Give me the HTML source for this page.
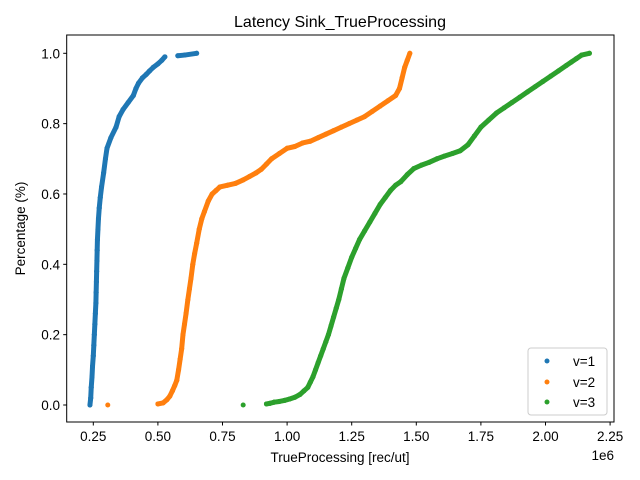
<!DOCTYPE html>
<html><head><meta charset="utf-8"><style>
body{margin:0;background:#fff}
svg{display:block;font-family:"Liberation Sans","DejaVu Sans",sans-serif}
</style></head><body>
<svg id="chart" width="640" height="480" viewBox="0 0 640 480">
<rect width="640" height="480" fill="#fff"/>
<text x="340" y="27" font-size="16" text-anchor="middle">Latency Sink_TrueProcessing</text>
<g id="plot"></g>
<rect x="66.7" y="35" width="547.3" height="387" fill="none" stroke="#000" stroke-width="1"/>
<g id="xt"></g>
<g id="yt"></g>
<text x="340" y="462" font-size="13.5" text-anchor="middle">TrueProcessing [rec/ut]</text>
<text x="614" y="460" font-size="13.5" text-anchor="end">1e6</text>
<text transform="translate(25,228.5) rotate(-90)" font-size="13.5" text-anchor="middle">Percentage (%)</text>
<g>
<rect x="528" y="348" width="79" height="67" rx="3" fill="#fff" stroke="#ccc"/>
<circle cx="547" cy="361" r="2.5" fill="#1f77b4"/>
<text x="573" y="366" font-size="13.5">v=1</text>
<circle cx="547" cy="382" r="2.5" fill="#ff7f0e"/>
<text x="573" y="387" font-size="13.5">v=2</text>
<circle cx="547" cy="402" r="2.5" fill="#2ca02c"/>
<text x="573" y="407" font-size="13.5">v=3</text>
</g>
</svg>
<script>
const xTicks=[0.25,0.5,0.75,1.0,1.25,1.5,1.75,2.0,2.25];
const xTickLabels=["0.25","0.50","0.75","1.00","1.25","1.50","1.75","2.00","2.25"];
const yTicks=[0,0.2,0.4,0.6,0.8,1.0];
const yTickLabels=["0.0","0.2","0.4","0.6","0.8","1.0"];
const v1X=[0.237,0.24,0.242,0.245,0.247,0.25,0.252,0.254,0.256,0.258,0.26,0.261,0.262,0.263,0.264,0.265,0.266,0.268,0.27,0.273,0.277,0.282,0.29,0.297,0.303,0.318,0.338,0.35,0.365,0.385,0.405,0.415,0.425,0.44,0.455,0.468,0.482,0.5,0.515,0.527,0.577,0.604,0.65];
const v1Y=[0,0.02,0.05,0.08,0.11,0.14,0.17,0.2,0.23,0.26,0.29,0.32,0.35,0.38,0.41,0.44,0.47,0.5,0.53,0.56,0.59,0.62,0.66,0.7,0.73,0.76,0.79,0.82,0.84,0.86,0.88,0.9,0.915,0.93,0.94,0.95,0.96,0.97,0.98,0.99,0.993,0.995,1.0];
const v2X=[0.306,0.5,0.52,0.535,0.546,0.556,0.565,0.573,0.58,0.586,0.592,0.597,0.603,0.609,0.616,0.622,0.628,0.635,0.642,0.65,0.66,0.67,0.68,0.695,0.71,0.725,0.74,0.77,0.8,0.83,0.855,0.88,0.9,0.92,0.94,0.97,1.0,1.03,1.06,1.09,1.12,1.15,1.18,1.21,1.24,1.27,1.3,1.33,1.36,1.39,1.42,1.435,1.445,1.455,1.465,1.475];
const v2Y=[0,0.003,0.006,0.015,0.025,0.04,0.055,0.07,0.1,0.13,0.16,0.2,0.23,0.26,0.3,0.33,0.36,0.4,0.43,0.46,0.5,0.53,0.55,0.58,0.6,0.61,0.62,0.625,0.63,0.64,0.65,0.66,0.67,0.685,0.7,0.715,0.73,0.735,0.745,0.75,0.76,0.77,0.78,0.79,0.8,0.81,0.82,0.835,0.85,0.865,0.88,0.9,0.93,0.96,0.98,1.0];
const v3X=[0.83,0.92,0.935,0.95,0.97,0.99,1.01,1.03,1.05,1.065,1.08,1.09,1.1,1.11,1.12,1.13,1.14,1.15,1.16,1.17,1.18,1.19,1.2,1.21,1.22,1.235,1.25,1.265,1.28,1.3,1.32,1.34,1.36,1.38,1.4,1.42,1.44,1.465,1.49,1.52,1.55,1.58,1.61,1.64,1.67,1.7,1.725,1.75,1.78,1.81,1.84,1.87,1.9,1.93,1.96,1.99,2.02,2.05,2.08,2.1,2.12,2.14,2.17];
const v3Y=[0,0.003,0.005,0.008,0.01,0.013,0.017,0.022,0.03,0.04,0.05,0.065,0.08,0.1,0.12,0.14,0.16,0.18,0.2,0.225,0.25,0.275,0.3,0.33,0.36,0.39,0.42,0.445,0.47,0.495,0.52,0.545,0.57,0.59,0.61,0.625,0.635,0.655,0.672,0.682,0.69,0.7,0.708,0.715,0.723,0.74,0.765,0.79,0.81,0.83,0.845,0.86,0.875,0.89,0.905,0.92,0.935,0.95,0.965,0.975,0.985,0.995,1.0];
const NS="http://www.w3.org/2000/svg";
function sx(v){return 93.3+(v-0.25)*258.4;}
function sy(v){return 405-v*351.7;}
const xt=document.getElementById('xt'),yt=document.getElementById('yt'),plot=document.getElementById('plot');
xTicks.forEach((t,i)=>{
 const l=document.createElementNS(NS,'line');
 
 
 l.setAttribute('x1',sx(t));l.setAttribute('x2',sx(t));l.setAttribute('y1',422);l.setAttribute('y2',425.5);l.setAttribute('stroke','#000');
 xt.appendChild(l);
 const tx=document.createElementNS(NS,'text');
 
 
 tx.setAttribute('x',sx(t));tx.setAttribute('y',441);tx.setAttribute('font-size','13.5');tx.setAttribute('text-anchor','middle');
 tx.textContent=xTickLabels[i];xt.appendChild(tx);
});
yTicks.forEach((t,i)=>{
 const l=document.createElementNS(NS,'line');
 
 
 l.setAttribute('x1',63.2);l.setAttribute('x2',66.7);l.setAttribute('y1',sy(t));l.setAttribute('y2',sy(t));l.setAttribute('stroke','#000');
 yt.appendChild(l);
 const tx=document.createElementNS(NS,'text');
 
 
 tx.setAttribute('x',60);tx.setAttribute('y',sy(t)+5);tx.setAttribute('font-size','13.5');tx.setAttribute('text-anchor','end');
 tx.textContent=yTickLabels[i];yt.appendChild(tx);
});
function series(xs,ys,color,name){
 const g=document.createElementNS(NS,'g');
 
 
 for(let i=0;i<xs.length;i++){
  if(i>0){
   const x0=sx(xs[i-1]),y0=sy(ys[i-1]),x1=sx(xs[i]),y1=sy(ys[i]);
   if(Math.hypot(x1-x0,y1-y0)<20 && Math.abs(x1-x0)<12){
    const l=document.createElementNS(NS,'line');
    
    
    l.setAttribute('x1',x0);l.setAttribute('y1',y0);l.setAttribute('x2',x1);l.setAttribute('y2',y1);
    l.setAttribute('stroke',color);l.setAttribute('stroke-width','5');l.setAttribute('stroke-linecap','round');
    g.appendChild(l);
   }
  }
  const c=document.createElementNS(NS,'circle');
  
  
  c.setAttribute('cx',sx(xs[i]));c.setAttribute('cy',sy(ys[i]));c.setAttribute('r','2.5');c.setAttribute('fill',color);
  g.appendChild(c);
 }
 plot.appendChild(g);
}
series(v1X,v1Y,'#1f77b4','series-v1');
series(v2X,v2Y,'#ff7f0e','series-v2');
series(v3X,v3Y,'#2ca02c','series-v3');
</script>
</body></html>
